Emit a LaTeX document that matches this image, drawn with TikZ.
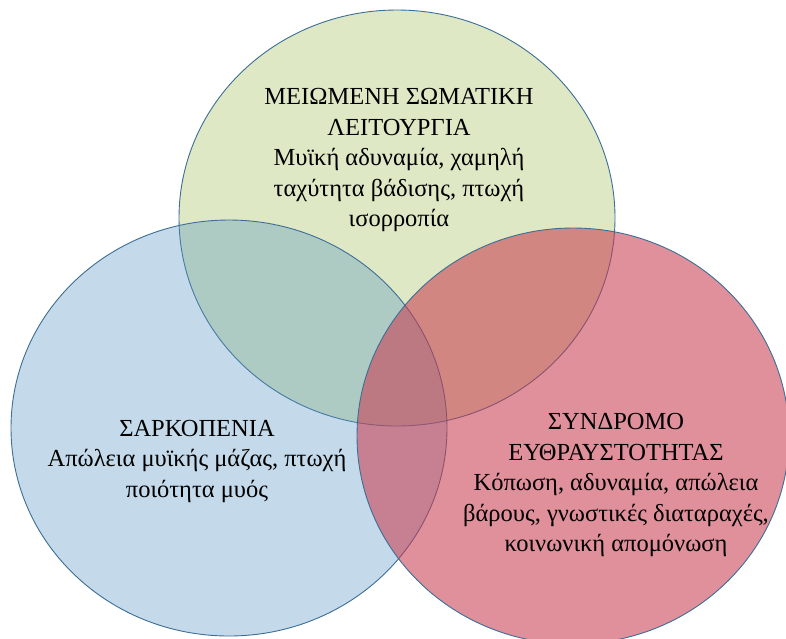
\documentclass[tikz,border=0pt]{standalone}
\usepackage{fontspec}
\setmainfont{Liberation Serif}
\definecolor{vgreen}{RGB}{155,188,76}
\definecolor{vblue}{RGB}{86,149,195}
\definecolor{vred}{RGB}{200,60,80}
\definecolor{vline}{RGB}{60,110,150}
\begin{document}
\begin{tikzpicture}[x=1pt,y=-1pt,
  venn/.style={draw=vline,line width=0.9pt},
  lbl/.style={align=center,font=\fontsize{24.5}{30.5}\selectfont,inner sep=0pt}]
\useasboundingbox (0,0) rectangle (786,638);
\fill[white] (0,0) rectangle (786,638);
\filldraw[venn,fill=vgreen,fill opacity=0.33] (397,218) ellipse [x radius=218,y radius=208];
\filldraw[venn,fill=vblue,fill opacity=0.35] (229,428) ellipse [x radius=218,y radius=208];
\filldraw[venn,fill=vred,fill opacity=0.57] (573,436) ellipse [x radius=216,y radius=208];
\node[lbl] (top) at (399,160) {ΜΕΙΩΜΕΝΗ ΣΩΜΑΤΙΚΗ\\ΛΕΙΤΟΥΡΓΙΑ\\Μυϊκή αδυναμία, χαμηλή\\ταχύτητα βάδισης, πτωχή\\ισορροπία};
\node[lbl] (left) at (197,461) {ΣΑΡΚΟΠΕΝΙΑ\\Απώλεια μυϊκής μάζας, πτωχή\\ποιότητα μυός};
\node[lbl] (right) at (616,485) {ΣΥΝΔΡΟΜΟ\\ΕΥΘΡΑΥΣΤΟΤΗΤΑΣ\\Κόπωση, αδυναμία, απώλεια\\βάρους, γνωστικές διαταραχές,\\κοινωνική απομόνωση};
\end{tikzpicture}
\end{document}
